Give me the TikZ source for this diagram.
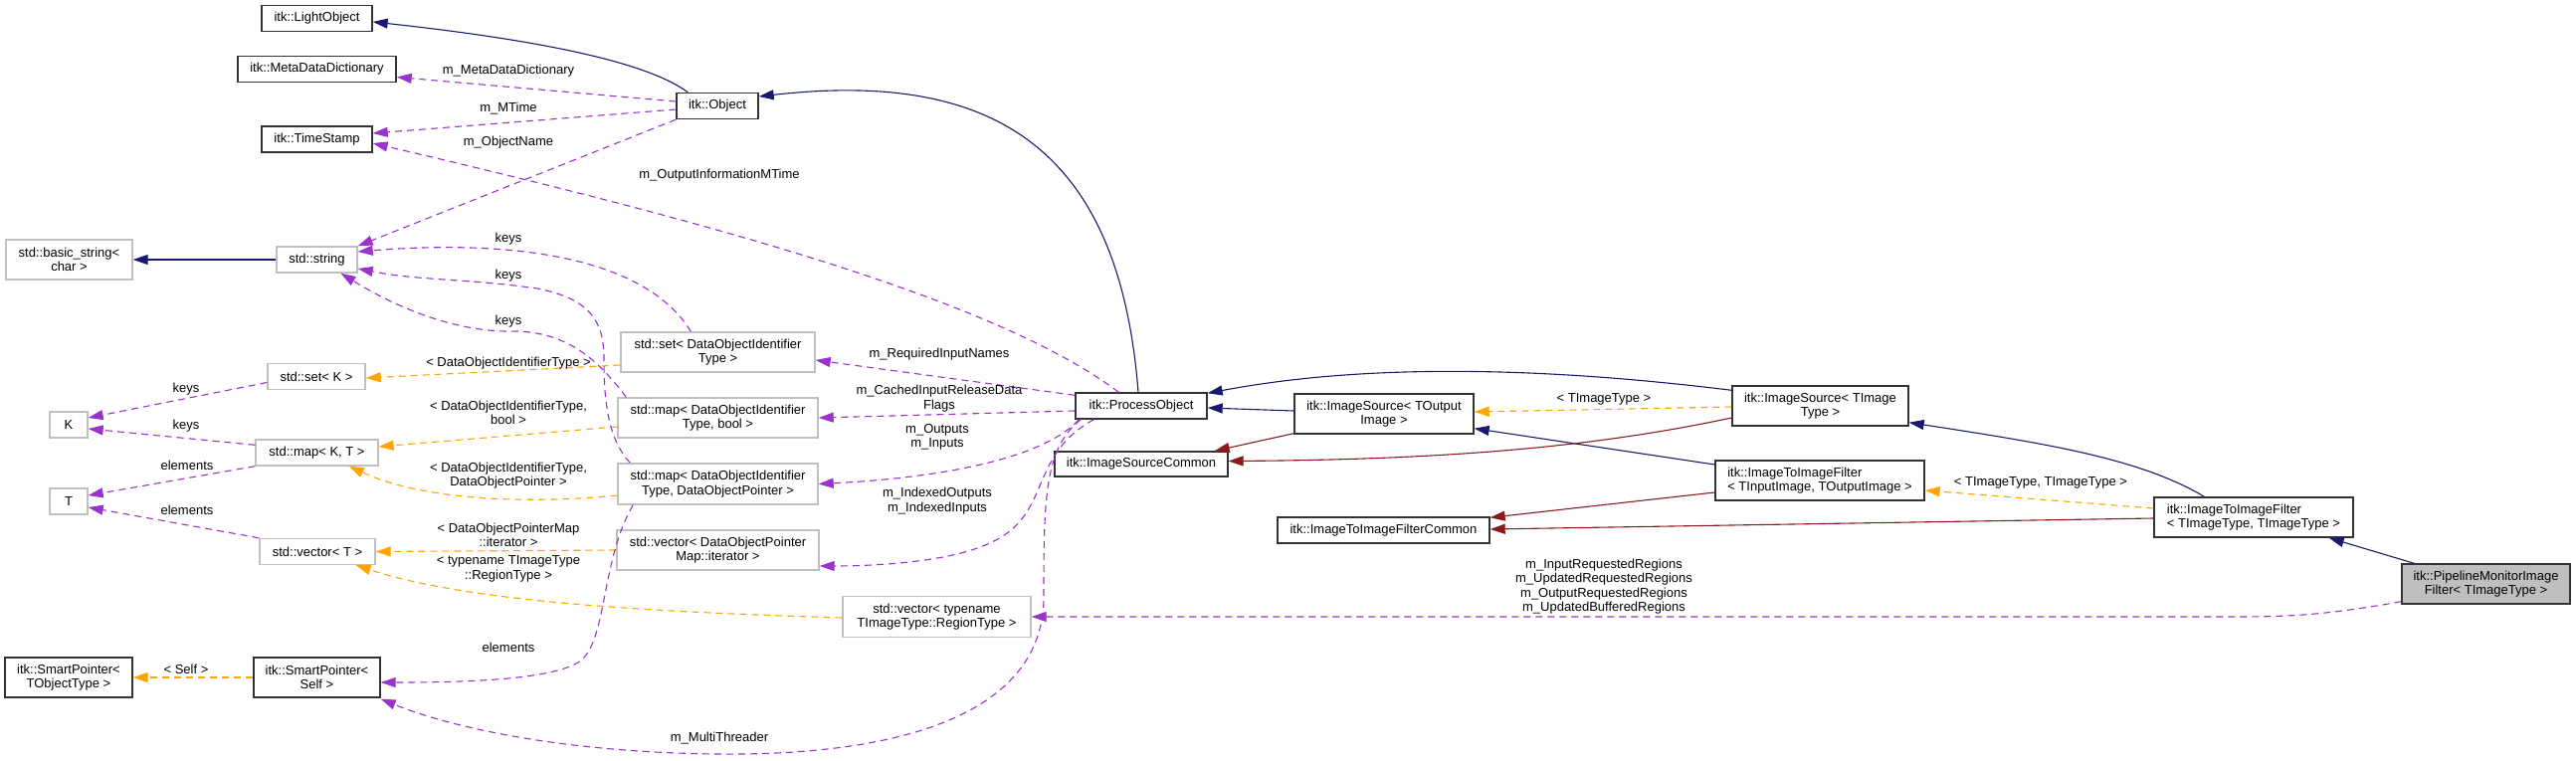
\documentclass[tikz,border=0pt]{standalone}
\usepackage{fontspec}
\setmainfont{Liberation Sans}
\usetikzlibrary{arrows.meta,calc}
\definecolor{inhblue}{HTML}{191970}
\definecolor{pubred}{HTML}{8B1A1A}
\definecolor{tmplorange}{HTML}{FFA500}
\definecolor{usepurple}{HTML}{9A32CD}
\definecolor{boxgrey}{HTML}{BFBFBF}
\begin{document}
\begin{tikzpicture}[x=1pt,y=-1pt,
  every node/.style={font=\fontsize{13}{14.5}\selectfont, inner sep=0pt},
  cls/.style={draw=black!80, line width=1.4pt, fill=white, align=center},
  clsl/.style={cls, align=left},
  ext/.style={draw=boxgrey, line width=1.4pt, fill=white, align=center},
  focus/.style={cls, fill=boxgrey},
  lbl/.style={align=center},
  tip/.style={-{Triangle[length=15pt,width=10pt]}},
  inh/.style={tip, draw=inhblue, line width=1.1pt},
  prot/.style={tip, draw=pubred, line width=1.1pt},
  tmpl/.style={tip, draw=tmplorange, line width=1.1pt, dash pattern=on 7pt off 5pt},
  use/.style={tip, draw=usepurple, line width=1.1pt, dash pattern=on 7pt off 5pt},
]
\useasboundingbox (0,0) rectangle (2589,765);
\fill[white] (0,0) rectangle (2589,765);

% ---------------- nodes ----------------
\node[cls, minimum width=111, minimum height=26] (light) at (318.5,18.5) {itk::LightObject};
\node[cls, minimum width=159, minimum height=26] (meta) at (318.5,69.5) {itk::MetaDataDictionary};
\node[cls, minimum width=111, minimum height=26] (tstamp) at (318.5,140) {itk::TimeStamp};
\node[cls, minimum width=82, minimum height=26] (obj) at (721,106.5) {itk::Object};
\node[ext, minimum width=127, minimum height=40] (bstr) at (69.5,261) {std::basic\_string<\\char >};
\node[ext, minimum width=81, minimum height=26] (str) at (318.5,261) {std::string};
\node[ext, minimum width=195, minimum height=40] (setdoi) at (721.5,354) {std::set< DataObjectIdentifier\\Type >};
\node[ext, minimum width=98, minimum height=26] (setk) at (318,378.5) {std::set< K >};
\node[ext, minimum width=38, minimum height=26] (K) at (69,427) {K};
\node[ext, minimum width=123, minimum height=26] (mapkt) at (318.5,455) {std::map< K, T >};
\node[ext, minimum width=201, minimum height=40] (mapbool) at (721.5,420) {std::map< DataObjectIdentifier\\Type, bool >};
\node[ext, minimum width=38, minimum height=26] (T) at (69,504) {T};
\node[ext, minimum width=201, minimum height=41] (mapptr) at (721.5,486.5) {std::map< DataObjectIdentifier\\Type, DataObjectPointer >};
\node[ext, minimum width=116, minimum height=26] (vect) at (319,554.5) {std::vector< T >};
\node[ext, minimum width=203, minimum height=40] (vecit) at (721.5,553) {std::vector< DataObjectPointer\\Map::iterator >};
\node[ext, minimum width=189, minimum height=41] (vecreg) at (941.5,620) {std::vector< typename\\TImageType::RegionType >};
\node[cls, minimum width=128, minimum height=40] (spobj) at (69,681) {itk::SmartPointer<\\TObjectType >};
\node[cls, minimum width=127, minimum height=40] (spself) at (318.5,681) {itk::SmartPointer<\\Self >};
\node[cls, minimum width=132, minimum height=26] (procobj) at (1147,408) {itk::ProcessObject};
\node[cls, minimum width=180, minimum height=40] (isout) at (1391,416) {itk::ImageSource< TOutput\\Image >};
\node[cls, minimum width=174, minimum height=25] (iscommon) at (1147,466.5) {itk::ImageSourceCommon};
\node[cls, minimum width=213, minimum height=26] (itifcommon) at (1390.5,533) {itk::ImageToImageFilterCommon};
\node[cls, minimum width=177, minimum height=40] (isimg) at (1829.5,408) {itk::ImageSource< TImage\\Type >};
\node[clsl, minimum width=210, minimum height=40] (itifio) at (1829,483) {itk::ImageToImageFilter\\< TInputImage, TOutputImage >};
\node[clsl, minimum width=200, minimum height=40] (itiftt) at (2265,520) {itk::ImageToImageFilter\\< TImageType, TImageType >};
\node[focus, minimum width=169, minimum height=40] (pipe) at (2498.5,587) {itk::PipelineMonitorImage\\Filter< TImageType >};

% ---------------- inheritance (blue) ----------------
\draw[inh] ($(obj.north west)+(12,0)$) .. controls (650,62) and (540,40) .. ($(light.east)+(0,3.5)$);
\draw[inh] ($(procobj.north)+(-3,0)$) .. controls (1125,150) and (1000,70) .. ($(obj.east)+(0,-9.5)$);
\draw[inh] ($(isimg.north west)+(0,5)$) .. controls (1600,375) and (1400,360) .. ($(procobj.north east)+(0,1)$);
\draw[inh] ($(isout.west)+(0,-3)$) -- ($(procobj.east)+(0,2)$);
\draw[inh] ($(itifio.west)+(0,-16)$) -- ($(isout.south east)+(0,-6)$);
\draw[inh] ($(itiftt.north west)+(51,0)$) .. controls (2150,460) and (2050,445) .. ($(isimg.south east)+(0,-4)$);
\draw[inh] (str.west) -- (bstr.east);
\draw[inh] ($(pipe.north west)+(13,0)$) -- ($(itiftt.south east)+(-25,0)$);

% ---------------- protected inheritance (red) ----------------
\draw[prot] ($(isout.south west)+(0,-1)$) -- ($(iscommon.north east)+(-14,0)$);
\draw[prot] ($(isimg.west)+(0,12)$) .. controls (1600,450) and (1450,462) .. ($(iscommon.east)+(0,-3)$);
\draw[prot] ($(itifio.west)+(0,12)$) -- ($(itifcommon.north east)+(0,1)$);
\draw[prot] ($(itiftt.west)+(0,1)$) -- ($(itifcommon.east)+(0,-1)$);

% ---------------- template instances (orange) ----------------
\draw[tmpl] ($(isimg.west)+(0,1)$) -- ($(isout.east)+(0,-2)$);
\node[lbl] (l13) at (1612,401) {< TImageType >};
\draw[tmpl] ($(itiftt.west)+(0,-9)$) -- ($(itifio.east)+(0,10)$);
\node[lbl] (l14) at (2051,485) {< TImageType, TImageType >};
\draw[tmpl] ($(setdoi.west)+(0,13)$) -- ($(setk.east)+(0,1.5)$);
\node[lbl] (l15) at (511,365) {< DataObjectIdentifierType >};
\draw[tmpl] ($(mapbool.west)+(0,9)$) -- ($(mapkt.east)+(0,-6)$);
\node[lbl] (l16) at (511,415) {< DataObjectIdentifierType,\\bool >};
\draw[tmpl] ($(mapptr.west)+(0,11.5)$) .. controls (540,506) and (430,505) .. ($(mapkt.south east)+(-30,0)$);
\node[lbl] (l17) at (511,478) {< DataObjectIdentifierType,\\DataObjectPointer >};
\draw[tmpl] (vecit.west) -- (vect.east);
\node[lbl] (l18) at (511,538) {< DataObjectPointerMap\\::iterator >};
\draw[tmpl] ($(vecreg.west)+(0,1)$) .. controls (650,615) and (470,605) .. ($(vect.south east)+(-20,0)$);
\node[lbl] (l19) at (511,572) {< typename TImageType\\::RegionType >};
\draw[tmpl] (spself.west) -- (spobj.east);
\node[lbl] (l20) at (187,673) {< Self >};

% ---------------- usage (purple) ----------------
\draw[use] ($(obj.west)+(0,-4.5)$) -- ($(meta.east)+(0,8)$);
\node[lbl] (l21) at (511,71) {m\_MetaDataDictionary};
\draw[use] ($(obj.west)+(0,3.5)$) -- ($(tstamp.east)+(0,-6)$);
\node[lbl] (l22) at (511,109) {m\_MTime};
\draw[use] ($(procobj.north west)+(44,0)$) .. controls (1000,300) and (700,220) .. ($(tstamp.east)+(0,4)$);
\node[lbl] (l23) at (723,176) {m\_OutputInformationMTime};
\draw[use] (obj.south west) -- (str.north east);
\node[lbl] (l24) at (511,143) {m\_ObjectName};
\draw[use] ($(setdoi.north west)+(71,0)$) .. controls (650,260) and (520,240) .. ($(str.east)+(0,-8)$);
\node[lbl] (l25) at (511,240) {keys};
\draw[use] ($(mapptr.north west)+(13,0)$) .. controls (610,440) and (607,400) .. (607,360) .. controls (607,320) and (590,300) .. (540,290) .. controls (470,280) and (420,282) .. ($(str.east)+(0,9)$);
\node[lbl] (l26) at (511,277) {keys};
\draw[use] ($(mapbool.north west)+(9,0)$) .. controls (600,360) and (570,335) .. (520,333) .. controls (460,335) and (400,310) .. ($(str.south)+(24,0)$);
\node[lbl] (l27) at (511,323) {keys};
\draw[use] ($(setk.west)+(0,6)$) -- ($(K.east)+(0,-7)$);
\node[lbl] (l28) at (187,391) {keys};
\draw[use] ($(mapkt.north west)+(0,6)$) -- ($(K.east)+(0,4)$);
\node[lbl] (l29) at (187,428) {keys};
\draw[use] (mapkt.south west) -- ($(T.east)+(0,-6)$);
\node[lbl] (l30) at (188,468) {elements};
\draw[use] (vect.north west) -- ($(T.east)+(0,6)$);
\node[lbl] (l31) at (188,513) {elements};
\draw[use] ($(mapptr.south west)+(16,0)$) .. controls (605,560) and (610,640) .. (585,663) .. controls (560,685) and (450,686) .. ($(spself.east)+(0,5)$);
\node[lbl] (l32) at (511,651) {elements};
\draw[use] ($(procobj.north west)+(0,3)$) -- ($(setdoi.east)+(0,8)$);
\node[lbl] (l33) at (944,356) {m\_RequiredInputNames};
\draw[use] ($(procobj.west)+(0,5)$) -- (mapbool.east);
\node[lbl] (l34) at (944,400.5) {m\_CachedInputReleaseData\\Flags};
\draw[use] ($(procobj.south west)+(4,0)$) .. controls (1050,460) and (950,480) .. (mapptr.east);
\node[lbl] (l35) at (942,439.5) {m\_Outputs\\m\_Inputs};
\draw[use] ($(procobj.south west)+(19,0)$) .. controls (1030,460) and (1060,520) .. (990,548) .. controls (950,565) and (880,569) .. ($(vecit.east)+(0,16)$);
\node[lbl] (l36) at (942,503.5) {m\_IndexedOutputs\\m\_IndexedInputs};
\draw[use] ($(procobj.south west)+(6,0)$) .. controls (1050,450) and (1049,500) .. (1049,600) .. controls (1049,720) and (900,760) .. (720,758) .. controls (560,756) and (450,730) .. ($(spself.south east)+(0,1)$);
\node[lbl] (l37) at (723,742) {m\_MultiThreader};
\draw[use] ($(pipe.south west)+(0,-3)$) .. controls (2340,618) and (2300,620) .. (2250,620) -- (vecreg.east);
\node[lbl] (l38) at (1612,589.5) {m\_InputRequestedRegions\\m\_UpdatedRequestedRegions\\m\_OutputRequestedRegions\\m\_UpdatedBufferedRegions};
\end{tikzpicture}
\end{document}
